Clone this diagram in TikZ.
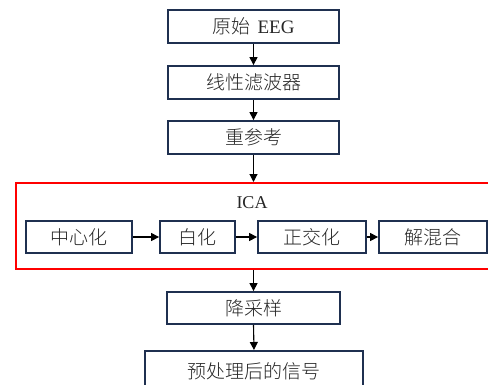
\documentclass[tikz,border=0pt]{standalone}
\usepackage{fontspec}
\setmainfont{Liberation Serif}
\IfFontExistsTF{Noto Sans CJK SC Light}{\newfontfamily\cjk{Noto Sans CJK SC Light}}{\newfontfamily\cjk{Noto Sans CJK SC}}
\usetikzlibrary{arrows.meta}
\definecolor{navy}{HTML}{1F3050}
\definecolor{txt}{HTML}{262626}
\tikzset{
  box/.style={draw=navy, line width=1.8pt, rectangle, inner sep=0pt, text=txt, font=\fontsize{19}{19}\selectfont\cjk},
  flow/.style={-{Triangle[length=8pt,width=8pt]}, line width=1.1pt, black},
}
\begin{document}
\begin{tikzpicture}[x=1pt,y=-1pt]
\clip (0,0) rectangle (488,384);
\fill[white] (0,0) rectangle (488,384);
% main column
\node[box, minimum width=171pt, minimum height=33pt] (raw) at (253.5,26.5) {原始\hspace{7pt}{\rmfamily\fontsize{19}{19}\selectfont EEG}};
\node[box, minimum width=171pt, minimum height=33pt] (filt) at (253.5,82.5) {线性滤波器};
\node[box, minimum width=171pt, minimum height=33pt] (reref) at (253.5,137.5) {重参考};
% ICA frame
\node[draw=red, line width=1.9pt, rectangle, minimum width=495pt, minimum height=86pt, anchor=north west, inner sep=0pt] (ica) at (15,182) {};
\node[font=\fontsize{18}{18}\selectfont, text=txt] (icalbl) at (252,203) {ICA};
\node[box, minimum width=106pt, minimum height=32pt] (cen) at (79,237) {中心化};
\node[box, minimum width=75pt, minimum height=32pt] (whi) at (197.5,237) {白化};
\node[box, minimum width=108pt, minimum height=32pt] (ort) at (312,237) {正交化};
\node[box, minimum width=108pt, minimum height=32pt] (unm) at (433,237) {解混合};
% lower column
\node[box, minimum width=173pt, minimum height=32pt] (down) at (253.5,308) {降采样};
\node[box, minimum width=218pt, minimum height=40pt, anchor=north] (out) at (254,350) {预处理后的信号};
% connectors
\draw[flow] (raw.south) -- (filt.north);
\draw[flow] (filt.south) -- (reref.north);
\draw[flow] (reref.south) -- (reref.south |- ica.north);
\draw[flow] (cen.east) -- (whi.west);
\draw[flow] (whi.east) -- (ort.west);
\draw[flow] (ort.east) -- (unm.west);
\draw[flow] (down.north |- ica.south) -- (down.north);
\draw[flow] (down.south) -- (out.north);
\end{tikzpicture}
\end{document}
